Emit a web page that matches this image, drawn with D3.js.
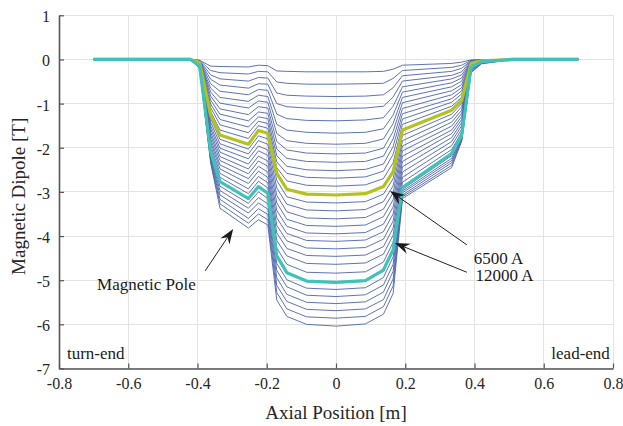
<!DOCTYPE html>
<html><head><meta charset="utf-8">
<script src="https://cdn.jsdelivr.net/npm/d3@7/dist/d3.min.js"></script>
<style>body{margin:0;background:#fff}svg{display:block}</style>
</head><body>
<svg id="chart" width="623" height="426"></svg>
<script>
// Axial sample positions [m]
const positions = [-0.70,-0.42,-0.394,-0.362,-0.335,-0.253,-0.224,-0.197,-0.171,-0.142,-0.085,0.0,0.085,0.137,0.165,0.192,0.334,0.363,0.39,0.42,0.51,0.70];
// Excitation currents [A], one per curve
const currents = [500,1000,1500,2000,2500,3000,3500,4000,4500,5000,5500,6000,6500,7000,7500,8000,8500,9000,9500,10000,10500,11000,11500,12000,12500,13000,13500,14000,14500,15000];
// Dipole field [T] at each position (one column per position, one entry per current)
const dipoleColumns = [
 [0,0,0,0,0,0,0,0,0,0,0,0,0,0,0,0,0,0,0,0,0,0,0,0,0,0,0,0,0,0],
 [0,0,0,0,0,0,0,0,0,0,0,0,0,0,0,0,0,0,0,0,0,0,0,0,0,0,0,0,0,0],
 [-0.02,-0.02,-0.03,-0.03,-0.03,-0.04,-0.04,-0.04,-0.05,-0.05,-0.05,-0.06,-0.07,-0.08,-0.08,-0.09,-0.10,-0.10,-0.11,-0.12,-0.13,-0.13,-0.14,-0.15,-0.16,-0.17,-0.17,-0.18,-0.19,-0.20],
 [-0.15,-0.25,-0.35,-0.45,-0.55,-0.65,-0.74,-0.83,-0.92,-1.01,-1.09,-1.18,-1.26,-1.34,-1.42,-1.50,-1.57,-1.65,-1.72,-1.80,-1.87,-1.95,-2.02,-2.09,-2.14,-2.18,-2.23,-2.27,-2.31,-2.35],
 [-0.16,-0.30,-0.44,-0.58,-0.72,-0.86,-0.99,-1.12,-1.24,-1.36,-1.48,-1.60,-1.71,-1.81,-1.91,-2.01,-2.10,-2.20,-2.29,-2.39,-2.48,-2.58,-2.67,-2.77,-2.87,-2.97,-3.07,-3.17,-3.27,-3.37],
 [-0.17,-0.33,-0.49,-0.65,-0.80,-0.95,-1.10,-1.25,-1.39,-1.53,-1.66,-1.79,-1.92,-2.03,-2.14,-2.25,-2.37,-2.48,-2.59,-2.70,-2.81,-2.93,-3.04,-3.15,-3.26,-3.37,-3.48,-3.60,-3.71,-3.82],
 [-0.13,-0.27,-0.41,-0.55,-0.68,-0.81,-0.94,-1.07,-1.19,-1.30,-1.40,-1.50,-1.61,-1.73,-1.84,-1.96,-2.07,-2.19,-2.30,-2.42,-2.53,-2.65,-2.76,-2.88,-3.00,-3.13,-3.25,-3.38,-3.50,-3.63],
 [-0.14,-0.28,-0.42,-0.56,-0.70,-0.84,-0.97,-1.10,-1.22,-1.34,-1.45,-1.56,-1.67,-1.80,-1.92,-2.05,-2.17,-2.30,-2.42,-2.55,-2.67,-2.79,-2.91,-3.03,-3.15,-3.27,-3.39,-3.51,-3.63,-3.75],
 [-0.26,-0.51,-0.76,-1.00,-1.24,-1.47,-1.68,-1.86,-2.03,-2.18,-2.32,-2.45,-2.58,-2.74,-2.91,-3.08,-3.25,-3.42,-3.59,-3.76,-3.93,-4.10,-4.27,-4.45,-4.62,-4.78,-4.95,-5.12,-5.28,-5.45],
 [-0.27,-0.54,-0.81,-1.07,-1.34,-1.60,-1.84,-2.05,-2.24,-2.42,-2.58,-2.75,-2.94,-3.11,-3.28,-3.45,-3.62,-3.78,-3.94,-4.11,-4.28,-4.45,-4.64,-4.83,-4.99,-5.15,-5.32,-5.48,-5.65,-5.82],
 [-0.28,-0.56,-0.83,-1.10,-1.38,-1.65,-1.90,-2.12,-2.31,-2.50,-2.67,-2.85,-3.05,-3.23,-3.41,-3.59,-3.76,-3.93,-4.10,-4.27,-4.44,-4.62,-4.82,-5.02,-5.18,-5.34,-5.50,-5.66,-5.83,-6.00],
 [-0.28,-0.56,-0.84,-1.11,-1.39,-1.67,-1.92,-2.14,-2.33,-2.52,-2.69,-2.87,-3.07,-3.25,-3.43,-3.61,-3.78,-3.95,-4.12,-4.29,-4.46,-4.64,-4.84,-5.05,-5.21,-5.37,-5.53,-5.69,-5.86,-6.04],
 [-0.28,-0.55,-0.83,-1.10,-1.37,-1.65,-1.90,-2.12,-2.31,-2.49,-2.66,-2.84,-3.04,-3.22,-3.40,-3.58,-3.75,-3.92,-4.09,-4.26,-4.43,-4.61,-4.81,-5.01,-5.17,-5.33,-5.49,-5.65,-5.82,-5.99],
 [-0.27,-0.54,-0.80,-1.06,-1.32,-1.57,-1.80,-2.01,-2.19,-2.37,-2.53,-2.70,-2.88,-3.05,-3.22,-3.39,-3.56,-3.73,-3.90,-4.07,-4.24,-4.41,-4.59,-4.77,-4.94,-5.11,-5.27,-5.44,-5.60,-5.77],
 [-0.22,-0.43,-0.64,-0.85,-1.06,-1.26,-1.45,-1.63,-1.80,-1.97,-2.15,-2.34,-2.54,-2.70,-2.86,-3.02,-3.18,-3.34,-3.50,-3.66,-3.82,-3.98,-4.14,-4.31,-4.47,-4.64,-4.80,-4.97,-5.13,-5.30],
 [-0.13,-0.25,-0.37,-0.49,-0.62,-0.74,-0.86,-0.98,-1.11,-1.23,-1.35,-1.47,-1.60,-1.72,-1.84,-1.96,-2.07,-2.19,-2.31,-2.43,-2.55,-2.67,-2.78,-2.90,-2.94,-2.98,-3.02,-3.07,-3.11,-3.15],
 [-0.09,-0.18,-0.27,-0.36,-0.44,-0.53,-0.62,-0.71,-0.80,-0.89,-0.97,-1.06,-1.15,-1.24,-1.33,-1.42,-1.51,-1.60,-1.68,-1.77,-1.86,-1.95,-2.04,-2.13,-2.18,-2.24,-2.29,-2.34,-2.40,-2.45],
 [-0.06,-0.13,-0.20,-0.28,-0.35,-0.42,-0.49,-0.57,-0.64,-0.71,-0.78,-0.86,-0.93,-1.00,-1.07,-1.15,-1.22,-1.29,-1.36,-1.43,-1.50,-1.58,-1.65,-1.72,-1.74,-1.77,-1.79,-1.81,-1.83,-1.85],
 [-0.01,-0.02,-0.03,-0.03,-0.04,-0.05,-0.05,-0.06,-0.06,-0.07,-0.07,-0.08,-0.09,-0.10,-0.11,-0.11,-0.12,-0.13,-0.14,-0.15,-0.16,-0.16,-0.17,-0.18,-0.20,-0.22,-0.24,-0.26,-0.28,-0.30],
 [-0.01,-0.01,-0.01,-0.01,-0.01,-0.01,-0.02,-0.02,-0.02,-0.02,-0.02,-0.02,-0.03,-0.03,-0.03,-0.03,-0.04,-0.04,-0.04,-0.04,-0.05,-0.05,-0.05,-0.05,-0.06,-0.07,-0.07,-0.08,-0.09,-0.10],
 [0,0,0,0,0,0,0,0,0,0,0,0,0,0,0,0,0,0,0,0,0,0,0,0,0,0,0,0,0,0],
 [0,0,0,0,0,0,0,0,0,0,0,0,0,0,0,0,0,0,0,0,0,0,0,0,0,0,0,0,0,0]
];
const highlightCurrents = [6500, 12000];
const highlightColors = ["#b3c31b", "#3fc2b8"];
const xTicks = [-0.8,-0.6,-0.4,-0.2,0,0.2,0.4,0.6,0.8];
const yTicks = [1,0,-1,-2,-3,-4,-5,-6,-7];

const svg = d3.select("#chart");
const L = 59, R = 613, T = 15.3, B = 368.5;
const x = d3.scaleLinear().domain([-0.8,0.8]).range([L,R]);
const y = d3.scaleLinear().domain([-7,1]).range([B,T]);
const font = "'Liberation Serif','Times New Roman',serif";

// grid
const grid = svg.append("g").attr("stroke","#e3e3e3").attr("stroke-width",1).attr("shape-rendering","crispEdges");
xTicks.forEach(t=>grid.append("line").attr("x1",x(t)).attr("x2",x(t)).attr("y1",T).attr("y2",B));
yTicks.forEach(t=>grid.append("line").attr("x1",L).attr("x2",R).attr("y1",y(t)).attr("y2",y(t)));

// curves
const line = d3.line().x(d=>x(d[0])).y(d=>y(d[1]));
const series = currents.map((c,i)=>({current:c, pts: positions.map((p,j)=>[p, dipoleColumns[j][i]])}));
svg.append("g").selectAll("path").data(series.filter(s=>!highlightCurrents.includes(s.current))).join("path")
  .attr("d",d=>line(d.pts)).attr("fill","none").attr("stroke","#4d63aa").attr("stroke-width",0.9).attr("stroke-linejoin","round");
highlightCurrents.forEach((c,k)=>{
  const s = series.find(s=>s.current===c);
  svg.append("path").attr("d",line(s.pts)).attr("fill","none").attr("stroke",highlightColors[k]).attr("stroke-width",3.2).attr("stroke-linejoin","round");
});

// axes
const xAxis = d3.axisBottom(x).tickValues(xTicks).tickSizeInner(-5).tickSizeOuter(0).tickPadding(9).tickFormat(d=>d===0?"0":String(d));
const yAxis = d3.axisLeft(y).tickValues(yTicks).tickSizeInner(-5).tickSizeOuter(0).tickPadding(9).tickFormat(d=>String(d));
const gx = svg.append("g").attr("transform",`translate(0,${B})`).call(xAxis);
const gy = svg.append("g").attr("transform",`translate(${L},0)`).call(yAxis);
[gx,gy].forEach(g=>{
  g.select(".domain").attr("stroke","#555").attr("stroke-width",1.6);
  g.selectAll(".tick line").attr("stroke","#555").attr("stroke-width",1.2);
  g.selectAll(".tick text").attr("fill","#262626").style("font-family",font).style("font-size","16px");
});
gy.selectAll(".tick text").attr("dy","0.4em");

// axis titles
svg.append("text").attr("x",x(0)).attr("y",419).attr("text-anchor","middle")
  .style("font-family",font).style("font-size","19px").attr("fill","#262626").text("Axial Position [m]");
svg.append("text").attr("transform",`translate(25,${y(-3.1)}) rotate(-90)`).attr("text-anchor","middle")
  .style("font-family",font).style("font-size","19px").attr("fill","#262626").text("Magnetic Dipole [T]");

// annotations
function arrow(x0,y0,x1,y1){
  const X0=x(x0),Y0=y(y0),X1=x(x1),Y1=y(y1);
  const dx=X1-X0,dy=Y1-Y0,len=Math.hypot(dx,dy),ux=dx/len,uy=dy/len,nx=-uy,ny=ux;
  const hl=15,hw=5.5,notch=10;
  svg.append("line").attr("x1",X0).attr("y1",Y0).attr("x2",X1-ux*notch).attr("y2",Y1-uy*notch).attr("stroke","#222").attr("stroke-width",1);
  const p=[[X1,Y1],[X1-ux*hl+nx*hw,Y1-uy*hl+ny*hw],[X1-ux*notch,Y1-uy*notch],[X1-ux*hl-nx*hw,Y1-uy*hl-ny*hw]];
  svg.append("path").attr("d","M"+p.map(q=>q.join(",")).join("L")+"Z").attr("fill","#1a1a1a");
}
arrow(-0.378,-4.79,-0.297,-3.84);
arrow(0.378,-4.2,0.156,-2.98);
arrow(0.378,-4.82,0.170,-4.16);
const ann = [
  {t:"Magnetic Pole", px:-0.69, py:-5.22, a:"start"},
  {t:"6500 A", px:0.398, py:-4.63, a:"start"},
  {t:"12000 A", px:0.403, py:-5.02, a:"start"},
  {t:"turn-end", px:-0.777, py:-6.79, a:"start"},
  {t:"lead-end", px:0.791, py:-6.79, a:"end"}
];
svg.append("g").selectAll("text").data(ann).join("text")
  .attr("x",d=>x(d.px)).attr("y",d=>y(d.py)).attr("text-anchor",d=>d.a)
  .style("font-family",font).style("font-size","17px").attr("fill","#1a1a1a").text(d=>d.t);
</script>
</body></html>
